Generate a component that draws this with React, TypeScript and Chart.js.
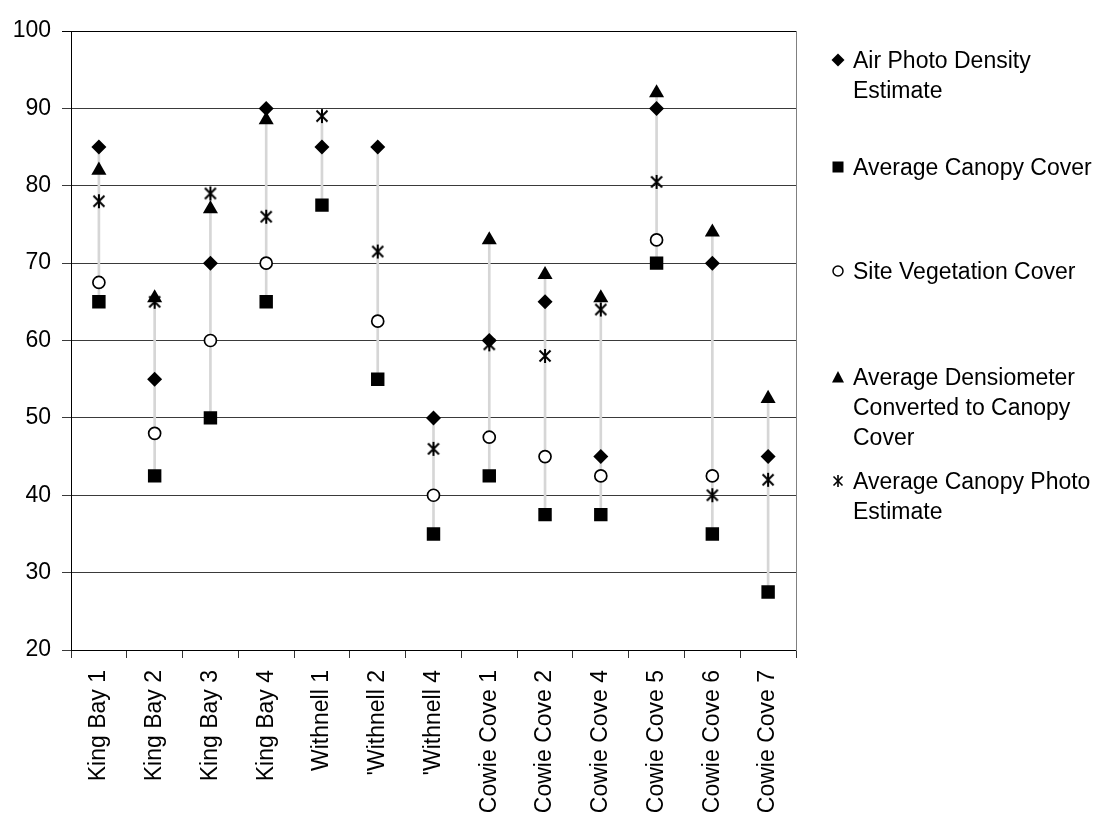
import React, { useEffect, useRef } from 'react';
import { Chart, registerables } from 'chart.js';

Chart.register(...registerables);

const categories = [
  'King Bay 1', 'King Bay 2', 'King Bay 3', 'King Bay 4', 'Withnell 1', "'Withnell 2", "'Withnell 4",
  'Cowie Cove 1', 'Cowie Cove 2', 'Cowie Cove 4', 'Cowie Cove 5', 'Cowie Cove 6', 'Cowie Cove 7',
];
const airPhotoDensity = [85, 55, 70, 90, 85, 85, 50, 60, 65, 45, 90, 70, 45];
const avgCanopyCover = [65, 42.5, 50, 65, 77.5, 55, 35, 42.5, 37.5, 37.5, 70, 35, 27.5];
const siteVegetationCover = [67.5, 48, 60, 70, null, 62.5, 40, 47.5, 45, 42.5, 73, 42.5, null];
const avgDensiometer = [82, 65.5, 77, 88.5, null, null, null, 73, 68.5, 65.5, 92, 74, 52.5];
const avgCanopyPhoto = [78, 65, 79, 76, 89, 71.5, 46, 59.5, 58, 64, 80.5, 40, 42];
const yMin = 20;
const yMax = 100;
const yStep = 10;

const seriesNames = [
  ['Air Photo Density', 'Estimate'],
  ['Average Canopy Cover'],
  ['Site Vegetation Cover'],
  ['Average Densiometer', 'Converted to Canopy', 'Cover'],
  ['Average Canopy Photo', 'Estimate'],
];

const FONT = '"Liberation Sans", Arial, sans-serif';

function makeStar(w: number, h: number, lw: number): HTMLCanvasElement {
  const c = document.createElement('canvas');
  c.width = w;
  c.height = h;
  const g = c.getContext('2d')!;
  g.strokeStyle = '#000';
  g.lineWidth = lw;
  const mx = w / 2;
  const my = h / 2;
  const rx = w / 2 - 1.5;
  const ry = h / 2 - 1;
  g.beginPath();
  g.moveTo(mx, my - ry);
  g.lineTo(mx, my + ry);
  g.moveTo(mx - rx, my - rx);
  g.lineTo(mx + rx, my + rx);
  g.moveTo(mx + rx, my - rx);
  g.lineTo(mx - rx, my + rx);
  g.stroke();
  return c;
}

function LegendMarker({ kind }: { kind: number }) {
  const s = 14;
  let shape: React.ReactNode = null;
  if (kind === 0) shape = <polygon points="7,0.5 13.5,7 7,13.5 0.5,7" fill="#000" />;
  if (kind === 1) shape = <rect x="1.5" y="1.5" width="11" height="11" fill="#000" />;
  if (kind === 2) shape = <circle cx="7" cy="7" r="5" fill="#fff" stroke="#000" strokeWidth="1.5" />;
  if (kind === 3) shape = <polygon points="7,1 13,12.5 1,12.5" fill="#000" />;
  if (kind === 4)
    shape = (
      <g stroke="#000" strokeWidth="1.6">
        <line x1="7" y1="1" x2="7" y2="13" />
        <line x1="2.5" y1="2.5" x2="11.5" y2="11.5" />
        <line x1="11.5" y1="2.5" x2="2.5" y2="11.5" />
      </g>
    );
  return (
    <svg width={s} height={s} style={{ position: 'absolute', left: 831, top: -7 }}>
      {shape}
    </svg>
  );
}

const legendTops = [60, 167, 271, 377, 481];

export default function App() {
  const ref = useRef<HTMLCanvasElement | null>(null);

  useEffect(() => {
    if (!ref.current) return;
    const star = makeStar(14, 16, 2);
    const ranges = categories.map((_, i) => {
      const vals = [airPhotoDensity[i], avgCanopyCover[i], siteVegetationCover[i], avgDensiometer[i], avgCanopyPhoto[i]].filter(
        (v) => v !== null && v !== undefined
      ) as number[];
      return [Math.min(...vals), Math.max(...vals)];
    });
    const pointDs = (label: string, data: (number | null)[], style: any, radius: number, bg: string, bw: number, order: number) => ({
      type: 'line' as const,
      label,
      data,
      showLine: false,
      pointStyle: style,
      pointRadius: radius,
      pointHoverRadius: radius,
      pointBackgroundColor: bg,
      pointBorderColor: '#000',
      pointBorderWidth: bw,
      order,
    });
    const chart = new Chart(ref.current, {
      type: 'bar',
      data: {
        labels: categories,
        datasets: [
          {
            type: 'bar',
            label: 'range',
            data: ranges as any,
            backgroundColor: '#d6d6d6',
            borderWidth: 0,
            barThickness: 2,
            order: 10,
          } as any,
          pointDs('Average Canopy Cover', avgCanopyCover, 'rect', 9.5, '#000', 0, 5),
          pointDs('Site Vegetation Cover', siteVegetationCover, 'circle', 6, '#fff', 1.7, 4),
          pointDs('Average Canopy Photo Estimate', avgCanopyPhoto, star, 7, '#000', 0, 3),
          pointDs('Average Densiometer Converted to Canopy Cover', avgDensiometer, 'triangle', 8.7, '#000', 0, 2),
          pointDs('Air Photo Density Estimate', airPhotoDensity, 'rectRot', 7.5, '#000', 0, 1),
        ],
      },
      options: {
        responsive: false,
        animation: false,
        layout: { padding: { top: 31, right: 306, left: 0, bottom: 0 } },
        plugins: { legend: { display: false }, tooltip: { enabled: false } },
        scales: {
          x: {
            offset: true,
            grid: { offset: true, drawOnChartArea: false, drawTicks: true, tickLength: 8, color: '#333', lineWidth: 1 },
            border: { display: true, color: '#000', width: 1 },
            ticks: {
              autoSkip: false,
              maxRotation: 90,
              minRotation: 90,
              padding: 12,
              color: '#000',
              font: { family: FONT, size: 23 },
            },
            afterFit: (s: any) => {
              s.height = 171;
            },
          },
          y: {
            min: yMin,
            max: yMax,
            ticks: { stepSize: yStep, padding: 11, color: '#000', font: { family: FONT, size: 23 } },
            grid: {
              drawTicks: true,
              tickLength: 9,
              color: (c: any) => (c.tick && c.tick.value === yMax ? '#000' : '#3a3a3a'),
              lineWidth: 1,
            },
            border: { display: true, color: '#000', width: 1 },
            afterFit: (s: any) => {
              s.width = 71;
            },
          },
          yRight: {
            position: 'right',
            min: yMin,
            max: yMax,
            ticks: { display: false },
            grid: { display: false, drawTicks: false },
            border: { display: true, color: '#808080', width: 1 },
            afterFit: (s: any) => {
              s.width = 0;
            },
          },
        },
      } as any,
    });
    return () => chart.destroy();
  }, []);

  return (
    <div style={{ position: 'absolute', left: 0, top: 0, width: 1102, height: 821, background: '#fff', overflow: 'hidden' }}>
      <canvas ref={ref} width={1102} height={821} style={{ display: 'block', width: 1102, height: 821 }} />
      {seriesNames.map((lines, k) => (
        <div key={k} style={{ position: 'absolute', left: 0, top: legendTops[k], width: 1102, height: 0 }}>
          <LegendMarker kind={k} />
          {lines.map((t, j) => (
            <div
              key={j}
              style={{
                position: 'absolute',
                left: 853,
                top: j * 30 - 15,
                height: 30,
                lineHeight: '30px',
                fontFamily: FONT,
                fontSize: 23,
                color: '#000',
                whiteSpace: 'nowrap',
              }}
            >
              {t}
            </div>
          ))}
        </div>
      ))}
    </div>
  );
}
